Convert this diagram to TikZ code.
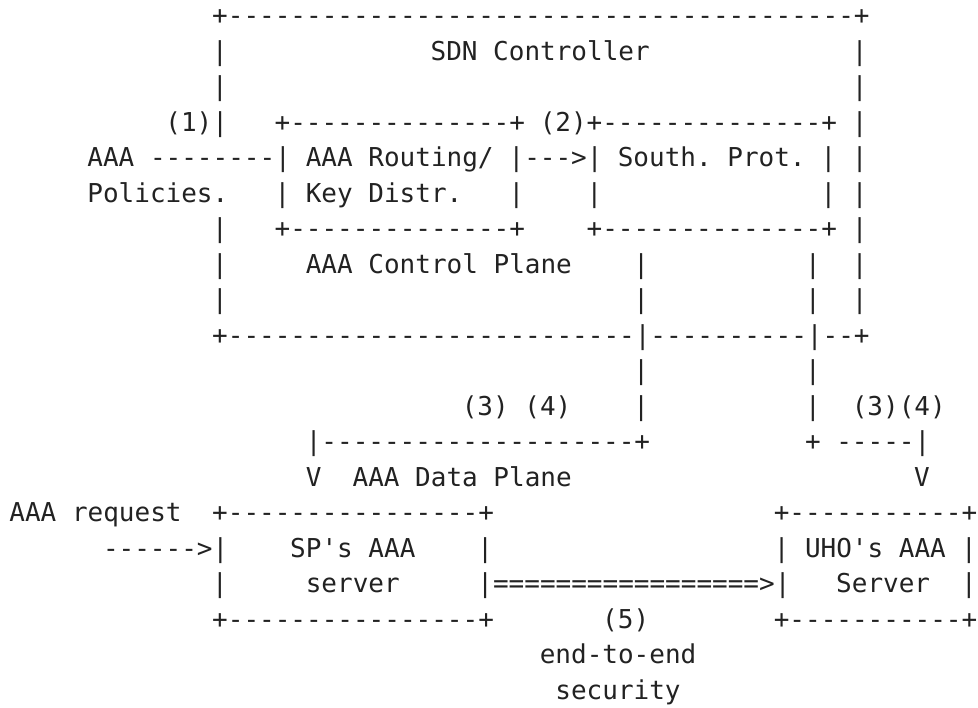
\documentclass[tikz,border=0pt]{standalone}
\usepackage{fontspec}
\setmonofont{DejaVu Sans Mono}
\definecolor{ink}{HTML}{222222}
\tikzset{
  asc/.style={font=\ttfamily\fontsize{13pt}{13pt}\selectfont\frenchspacing,
    text=ink, anchor=base west, inner sep=0pt, outer sep=0pt}
}
\begin{document}
\begin{tikzpicture}[x=7.8pt, y=-17.75pt, shift={(4.7pt,5.5pt)}]
    \useasboundingbox (-4.7pt,-5.5pt) rectangle (484.3pt,-359pt);

    % Row 1
    \node[asc] (sdntop) at (13,1) {+----------------------------------------+};

    % Row 2
    \node[asc] (sdnl2) at (13,2) {|};
    \node[asc] (sdn) at (27,2) {SDN Controller};
    \node[asc] (sdnr2) at (54,2) {|};

    % Row 3
    \node[asc] (sdnl3) at (13,3) {|};
    \node[asc] (sdnr3) at (54,3) {|};

    % Row 4
    \node[asc] (one) at (10,4) {(1)|};
    \node[asc] (routtop) at (17,4) {+--------------+};
    \node[asc] (two) at (34,4) {(2)};
    \node[asc] (southtop) at (37,4) {+--------------+};
    \node[asc] (sdnr4) at (54,4) {|};

    % Row 5
    \node[asc] (pol) at (5,5) {AAA --------|};
    \node[asc] (rout) at (19,5) {AAA Routing/};
    \node[asc] (arr2) at (32,5) {|--->|};
    \node[asc] (south) at (39,5) {South. Prot.};
    \node[asc] (southr5) at (52,5) {|};
    \node[asc] (sdnr5) at (54,5) {|};

    % Row 6
    \node[asc] (pol2) at (5,6) {Policies.};
    \node[asc] (routl6) at (17,6) {|};
    \node[asc] (key) at (19,6) {Key Distr.};
    \node[asc] (routr6) at (32,6) {|};
    \node[asc] (southl6) at (37,6) {|};
    \node[asc] (southr6) at (52,6) {|};
    \node[asc] (sdnr6) at (54,6) {|};

    % Row 7
    \node[asc] (sdnl7) at (13,7) {|};
    \node[asc] (routbot) at (17,7) {+--------------+};
    \node[asc] (southbot) at (37,7) {+--------------+};
    \node[asc] (sdnr7) at (54,7) {|};

    % Row 8
    \node[asc] (sdnl8) at (13,8) {|};
    \node[asc] (cplane) at (19,8) {AAA Control Plane};
    \node[asc] (la8) at (40,8) {|};
    \node[asc] (lb8) at (51,8) {|};
    \node[asc] (sdnr8) at (54,8) {|};

    % Row 9
    \node[asc] (sdnl9) at (13,9) {|};
    \node[asc] (la9) at (40,9) {|};
    \node[asc] (lb9) at (51,9) {|};
    \node[asc] (sdnr9) at (54,9) {|};

    % Row 10
    \node[asc] (sdnbot) at (13,10) {+--------------------------|----------|--+};

    % Row 11
    \node[asc] (la11) at (40,11) {|};
    \node[asc] (lb11) at (51,11) {|};

    % Row 12
    \node[asc] (tf) at (29,12) {(3) (4)};
    \node[asc] (la12) at (40,12) {|};
    \node[asc] (lb12) at (51,12) {|};
    \node[asc] (tfr) at (54,12) {(3)(4)};

    % Row 13
    \node[asc] (la13) at (19,13) {|--------------------+};
    \node[asc] (lb13) at (51,13) {+ -----|};

    % Row 14
    \node[asc] (va) at (19,14) {V};
    \node[asc] (dplane) at (22,14) {AAA Data Plane};
    \node[asc] (vb) at (58,14) {V};

    % Row 15
    \node[asc] (req) at (0,15) {AAA request};
    \node[asc] (sptop) at (13,15) {+----------------+};
    \node[asc] (uhotop) at (49,15) {+-----------+};

    % Row 16
    \node[asc] (reqarr) at (6,16) {------>|};
    \node[asc] (sp) at (18,16) {SP's AAA};
    \node[asc] (spr16) at (30,16) {|};
    \node[asc] (uhol16) at (49,16) {|};
    \node[asc] (uho) at (51,16) {UHO's AAA};
    \node[asc] (uhor16) at (61,16) {|};

    % Row 17
    \node[asc] (spl17) at (13,17) {|};
    \node[asc] (spsrv) at (19,17) {server};
    \node[asc] (e2e) at (30,17) {|=================>|};
    \node[asc] (uhosrv) at (53,17) {Server};
    \node[asc] (uhor17) at (61,17) {|};

    % Row 18
    \node[asc] (spbot) at (13,18) {+----------------+};
    \node[asc] (five) at (38,18) {(5)};
    \node[asc] (uhobot) at (49,18) {+-----------+};

    % Row 19
    \node[asc] (sec1) at (34,19) {end-to-end};

    % Row 20
    \node[asc] (sec2) at (35,20) {security};
\end{tikzpicture}
\end{document}
